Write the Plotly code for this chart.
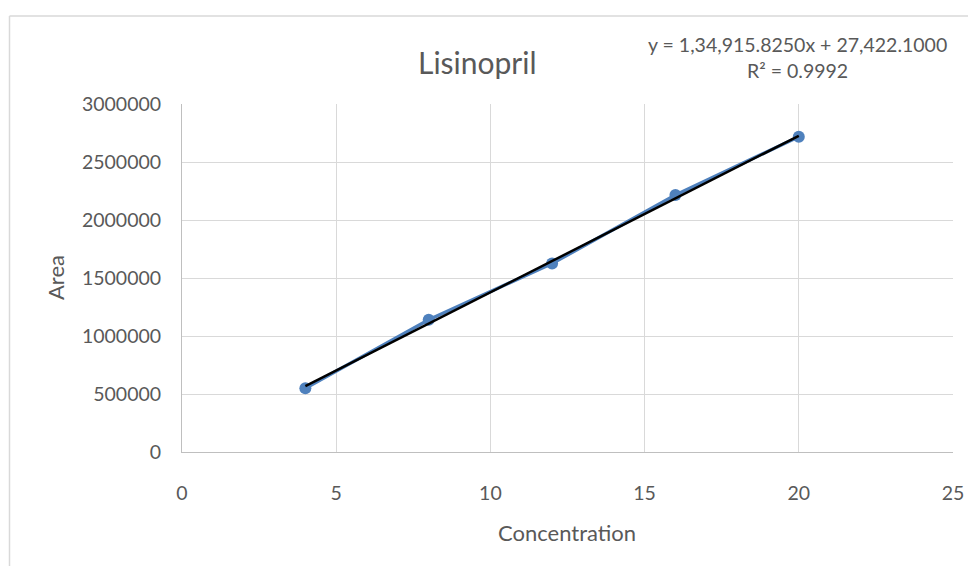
import plotly.graph_objects as go

# Data
concentration = [4, 8, 12, 16, 20]
area = [549000, 1140000, 1625000, 2215000, 2718000]
slope = 134915.8250
intercept = 27422.1000
equation_text = "y = 1,34,915.8250x + 27,422.1000"
r2_text = "R² = 0.9992"
title_text = "Lisinopril"
x_title = "Concentration"
y_title = "Area"
x_ticks = [0, 5, 10, 15, 20, 25]
y_ticks = [0, 500000, 1000000, 1500000, 2000000, 2500000, 3000000]

W, H = 976, 566
OFF = 8  # page body margin
L, R, T, B = 182, 953, 104, 452

def px(xp):
    return (xp - L) / (R - L)

def py(yp):
    return (B - yp) / (B - T)

FONT = "Lato"
GREY = "#595959"
BLUE = "#4f81bd"

trend_x = [concentration[0], concentration[-1]]
trend_y = [slope * v + intercept for v in trend_x]

fig = go.Figure()
fig.add_trace(go.Scatter(
    x=concentration, y=area, mode="lines+markers",
    line=dict(color=BLUE, width=3.5),
    marker=dict(color=BLUE, size=12),
    showlegend=False, hoverinfo="skip"))
fig.add_trace(go.Scatter(
    x=trend_x, y=trend_y, mode="lines",
    line=dict(color="black", width=2.5),
    showlegend=False, hoverinfo="skip"))

fig.update_layout(
    width=W - OFF, height=H - OFF,
    margin=dict(l=L - OFF, r=W - R, t=T - OFF, b=H - B, pad=0),
    paper_bgcolor="white", plot_bgcolor="white",
    font=dict(family=FONT, color=GREY, size=19),
    showlegend=False,
)
fig.update_xaxes(
    range=[0, 25], tickvals=x_ticks, ticktext=[str(v) for v in x_ticks],
    showgrid=True, gridcolor="#d9d9d9", gridwidth=1,
    showline=True, linecolor="#bfbfbf", linewidth=1,
    zeroline=False, ticks="outside", ticklen=24, tickcolor="rgba(0,0,0,0)",
    tickfont=dict(family=FONT, size=19.5, color=GREY),
)
fig.update_yaxes(
    range=[0, 3000000], tickvals=y_ticks, ticktext=[str(v) for v in y_ticks],
    showgrid=True, gridcolor="#d9d9d9", gridwidth=1,
    showline=True, linecolor="#bfbfbf", linewidth=1,
    zeroline=False, ticks="outside", ticklen=16, tickcolor="rgba(0,0,0,0)",
    tickfont=dict(family=FONT, size=19.5, color=GREY),
)

# chart-area border (left and top visible)
fig.add_shape(type="line", xref="paper", yref="paper",
              x0=px(9.5), x1=px(9.5), y0=py(570), y1=py(16),
              line=dict(color="#d9d9d9", width=1.5))
fig.add_shape(type="line", xref="paper", yref="paper",
              x0=px(9.5), x1=px(980), y0=py(16), y1=py(16),
              line=dict(color="#d9d9d9", width=1.5))

ann = [
    dict(text=title_text, x=px(477), y=py(62), size=30),
    dict(text=equation_text, x=px(797), y=py(44), size=19.5),
    dict(text=r2_text, x=px(797), y=py(71), size=19.5),
    dict(text=x_title, x=px(567), y=py(532), size=22),
]
for a in ann:
    fig.add_annotation(text=a["text"], x=a["x"], y=a["y"], xref="paper", yref="paper",
                       xanchor="center", yanchor="middle", showarrow=False,
                       font=dict(family=FONT, size=a["size"], color=GREY))
fig.add_annotation(text=y_title, x=px(55), y=py(278), xref="paper", yref="paper",
                   xanchor="center", yanchor="middle", showarrow=False, textangle=-90,
                   font=dict(family=FONT, size=22, color=GREY))

fig.write_html("out.html")
